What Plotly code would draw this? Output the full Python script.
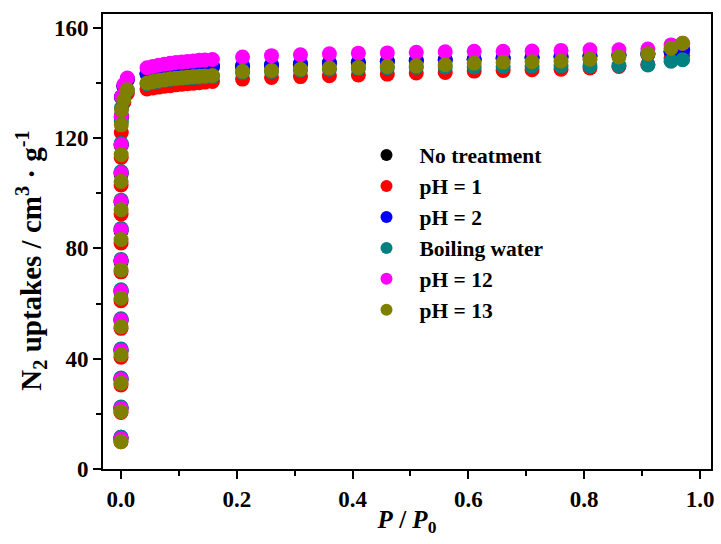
import plotly.graph_objects as go

# Relative pressure grid (shared structure)
p_low = [0.00002, 0.00004, 0.00006, 0.00008, 0.0001, 0.00012, 0.00015, 0.0002,
         0.00025, 0.0003, 0.0004, 0.0006, 0.001, 0.005, 0.011]
p_mid = [0.045, 0.055, 0.065, 0.075, 0.085, 0.095, 0.105, 0.115, 0.125, 0.135, 0.145, 0.158]
p_high = [0.21, 0.26, 0.31, 0.36, 0.41, 0.46, 0.51, 0.56, 0.61, 0.66, 0.71, 0.76,
          0.81, 0.86, 0.91, 0.95, 0.97]
pressure = p_low + p_mid + p_high

series_names = ["No treatment", "pH = 1", "pH = 2", "Boiling water", "pH = 12", "pH = 13"]
series_colors = ["#000000", "#ff0000", "#0000ff", "#008080", "#ff00ff", "#808000"]

no_treatment = [11, 21.8, 32.3, 42.8, 53.7, 64.2, 75.2, 86.3, 96.7, 107, 117.3, 127.5, 134.7, 138.8, 141.2,
                143.2, 143.8, 144.2, 144.5, 144.8, 145.0, 145.2, 145.4, 145.6, 145.7, 145.8, 145.9,
                146.0, 146.4, 146.8, 147.2, 147.5, 147.8, 148.1, 148.4, 148.6, 148.8, 149.1, 149.4,
                149.7, 150.0, 150.3, 151.2, 152.2]
ph1 = [9.9, 20.5, 30.5, 40.5, 51.0, 61.0, 71.5, 82.0, 92.5, 103.0, 113.0, 122.0, 128.0, 133.0, 136.3,
       137.8, 138.2, 138.5, 138.8, 139.0, 139.3, 139.5, 139.7, 139.9, 140.1, 140.3, 140.5,
       141.4, 142.0, 142.3, 142.6, 142.9, 143.2, 143.6, 143.8, 144.3, 144.5, 144.8, 145.0,
       145.4, 146.0, 146.8, 149.0, 150.0]
ph2 = [11.5, 22.3, 32.8, 43.3, 54.2, 64.7, 75.7, 86.8, 97.2, 107.5, 117.8, 128.0, 135.0, 139.0, 141.5,
       143.5, 144.1, 144.5, 144.8, 145.1, 145.3, 145.5, 145.7, 145.8, 146.0, 146.1, 146.2,
       146.2, 146.6, 147.0, 147.3, 147.5, 147.8, 148.0, 148.3, 148.6, 149.0, 149.3, 149.6,
       150.0, 150.3, 150.6, 151.5, 151.8]
boiling = [11.5, 22.5, 33.0, 43.5, 54.5, 65.0, 76.0, 87.2, 97.5, 107.8, 118.0, 126.0, 131.0, 134.5, 137.2,
           139.7, 140.2, 140.6, 141.0, 141.3, 141.5, 141.7, 141.9, 142.0, 142.1, 142.2, 142.3,
           143.8, 144.2, 144.6, 145.0, 145.2, 145.5, 145.7, 145.8, 145.8, 146.0, 146.1, 146.2,
           146.2, 146.3, 146.5, 147.9, 148.4]
ph12 = [11.0, 22.0, 32.5, 43.0, 54.0, 64.5, 75.5, 86.7, 97.0, 107.3, 117.6, 127.8, 135.0, 139.3, 141.8,
        145.5, 146.0, 146.4, 146.8, 147.1, 147.4, 147.6, 147.8, 148.0, 148.2, 148.3, 148.5,
        149.4, 149.9, 150.2, 150.6, 150.8, 150.9, 151.1, 151.3, 151.5, 151.5, 151.6, 151.8,
        152.0, 152.0, 152.3, 153.8, 154.4]
ph13 = [9.9, 20.8, 31.1, 41.4, 51.6, 61.9, 72.2, 83.2, 94.0, 104.3, 114.0, 124.8, 130.3, 133.9, 137.5,
        140.0, 140.5, 140.9, 141.2, 141.5, 141.7, 141.9, 142.1, 142.3, 142.4, 142.5, 142.7,
        144.2, 144.5, 145.0, 145.4, 145.6, 146.0, 146.2, 146.6, 147.2, 147.5, 147.7, 147.9,
        148.6, 149.4, 150.6, 152.6, 154.4]

all_series = [no_treatment, ph1, ph2, boiling, ph12, ph13]

x_ticks = [0.0, 0.2, 0.4, 0.6, 0.8, 1.0]
x_tick_labels = ["0.0", "0.2", "0.4", "0.6", "0.8", "1.0"]
y_ticks = [0, 40, 80, 120, 160]
y_tick_labels = ["0", "40", "80", "120", "160"]

FONT = "Liberation Serif, Times New Roman, serif"

fig = go.Figure()
for name, color, vals in zip(series_names, series_colors, all_series):
    fig.add_trace(go.Scatter(
        x=pressure, y=vals, mode="markers", name=name,
        marker=dict(color=color, size=15, line=dict(width=0)),
    ))

axis_common = dict(
    showline=True, linecolor="black", linewidth=2, mirror=True,
    ticks="outside", ticklen=8, tickwidth=2, tickcolor="black",
    showgrid=False, zeroline=False,
    tickfont=dict(family=FONT, size=23, color="black", weight="bold"),
)

fig.update_xaxes(
    range=[-0.031, 1.019], tickvals=x_ticks, ticktext=x_tick_labels,
    minor=dict(ticks="outside", ticklen=5, tickwidth=2, tickcolor="black", dtick=0.1, tick0=0),
    title=dict(text="<i>P</i> / <i>P</i><sub>0</sub>",
               font=dict(family=FONT, size=25, color="black", weight="bold"), standoff=0),
    **axis_common,
)
fig.update_yaxes(
    range=[0, 165], tickvals=y_ticks, ticktext=y_tick_labels,
    minor=dict(ticks="outside", ticklen=5, tickwidth=2, tickcolor="black", dtick=20, tick0=0),
    **axis_common,
)

# Y-axis title (placed as a rotated annotation to match the reference position)
fig.add_annotation(
    text="<b>N<sub>2</sub> uptakes / cm<sup>3</sup> · g<sup>-1</sup></b>",
    xref="paper", yref="paper", x=-0.119, y=0.457,
    xanchor="center", yanchor="middle", textangle=-90, showarrow=False,
    font=dict(family=FONT, size=29, color="black"),
)

fig.update_layout(
    width=721, height=544,
    margin=dict(l=103, r=7, t=14, b=75),
    paper_bgcolor="white", plot_bgcolor="white",
    legend=dict(
        x=0.412, y=0.735, xanchor="left", yanchor="top",
        bgcolor="rgba(0,0,0,0)", borderwidth=0,
        font=dict(family=FONT, size=21.5, color="black", weight="bold"),
        itemsizing="constant", tracegroupgap=0, itemwidth=56,
    ),
    showlegend=True,
)

fig.write_html("out.html")
